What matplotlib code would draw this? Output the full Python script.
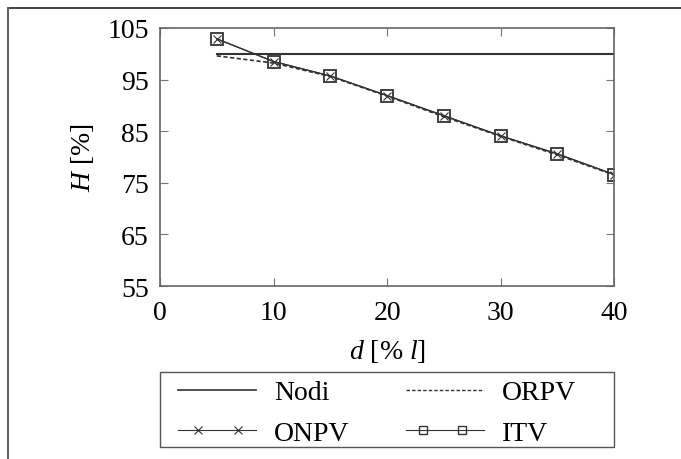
import matplotlib
matplotlib.use("Agg")
import matplotlib.pyplot as plt
from matplotlib.lines import Line2D
from matplotlib.patches import Rectangle
from matplotlib.legend_handler import HandlerBase

plt.rcParams['font.family'] = ['Liberation Serif', 'DejaVu Serif']
plt.rcParams['mathtext.fontset'] = 'custom'
plt.rcParams['mathtext.rm'] = 'Liberation Serif'
plt.rcParams['mathtext.it'] = 'Liberation Serif:italic'

d = [5, 10, 15, 20, 25, 30, 35, 40]
nodi = [100, 100, 100, 100, 100, 100, 100, 100]
orpv = [99.6, 98.2, 95.6, 91.8, 87.8, 84.0, 80.4, 76.5]
onpv = [102.9, 98.5, 95.7, 91.9, 88.0, 84.1, 80.6, 76.6]
itv = [102.9, 98.5, 95.7, 91.9, 88.0, 84.1, 80.6, 76.6]
yticks = [55, 65, 75, 85, 95, 105]
xticks = [0, 10, 20, 30, 40]
labels = ['Nodi', 'ORPV', 'ONPV', 'ITV']

FS = 20
W, H = 681, 460
fig = plt.figure(figsize=(6.81, 4.6), dpi=100)
ax = fig.add_axes([0.235, 0.376, 0.667, 0.561])
lc = '#333333'
ax.plot(d, nodi, color=lc, lw=1.5)
ax.plot(d, orpv, color=lc, lw=1.2, ls=(0, (2.5, 1.5)))
ax.plot(d, onpv, color=lc, lw=0.9, marker='x', ms=6, mew=0.8)
ax.plot(d, itv, color=lc, lw=0.9, marker='s', ms=8, mfc='none', mew=1.3)

ax.set_xlim(0, 40)
ax.set_ylim(55, 105)
ax.set_xticks(xticks)
ax.set_yticks(yticks)
ax.tick_params(direction='in', top=True, right=True, labelsize=FS, length=6, color='#777777')
ax.tick_params(axis='x', pad=10)
ax.tick_params(axis='y', pad=8)
for s in ax.spines.values():
    s.set_color('#666666')
    s.set_linewidth(1.2)
ax.set_xlabel('$d$ [% $l$]', fontsize=FS, labelpad=9)
ax.set_ylabel('$H$ [%]', fontsize=FS, labelpad=8)


class InsetMarkerHandler(HandlerBase):
    def __init__(self, frac=(0.26, 0.76), **kw):
        super().__init__(**kw)
        self.frac = frac

    def create_artists(self, legend, orig_handle, xdescent, ydescent,
                       width, height, fontsize, trans):
        y = (height - ydescent) / 2
        x0 = -xdescent
        line = Line2D([x0, x0 + width], [y, y], color=orig_handle.get_color(),
                      lw=orig_handle.get_linewidth(), transform=trans)
        xs = [x0 + f * width for f in self.frac]
        mk = Line2D(xs, [y, y], ls='None', marker=orig_handle.get_marker(),
                    ms=orig_handle.get_markersize(), mew=orig_handle.get_markeredgewidth(),
                    mfc=orig_handle.get_markerfacecolor(), mec=orig_handle.get_color(),
                    transform=trans)
        return [line, mk]


p_nodi = Line2D([], [], color=lc, lw=1.2)
p_orpv = Line2D([], [], color=lc, lw=1.0, ls=(0, (2.5, 1.5)))
p_onpv = Line2D([], [], color=lc, lw=0.8, marker='x', ms=6, mew=0.8)
p_itv = Line2D([], [], color=lc, lw=0.8, marker='s', ms=6, mfc='none', mew=1.0)
hm = {p_onpv: InsetMarkerHandler((0.26, 0.77)), p_itv: InsetMarkerHandler((0.21, 0.72))}
leg = fig.legend([p_nodi, p_onpv, p_orpv, p_itv], [labels[0], labels[2], labels[1], labels[3]],
                 ncol=2, loc='upper left', bbox_to_anchor=(178 / W, 1 - 381 / H),
                 fontsize=FS, frameon=False, handler_map=hm,
                 handlelength=2.8, borderpad=0.0,
                 labelspacing=0.55, columnspacing=2.05, handletextpad=0.65,
                 borderaxespad=0)

fig.add_artist(Rectangle((160 / W, 1 - 448 / H), 454 / W, 75 / H, transform=fig.transFigure,
                         fill=False, edgecolor='#555555', lw=1.0))
fig.add_artist(Line2D([0.012, 1.0], [0.98, 0.98], transform=fig.transFigure, color='#222222', lw=1.2))
fig.add_artist(Line2D([0.012, 0.012], [0.0, 0.98], transform=fig.transFigure, color='#666666', lw=1.5))

fig.savefig('out.png', dpi=100)
